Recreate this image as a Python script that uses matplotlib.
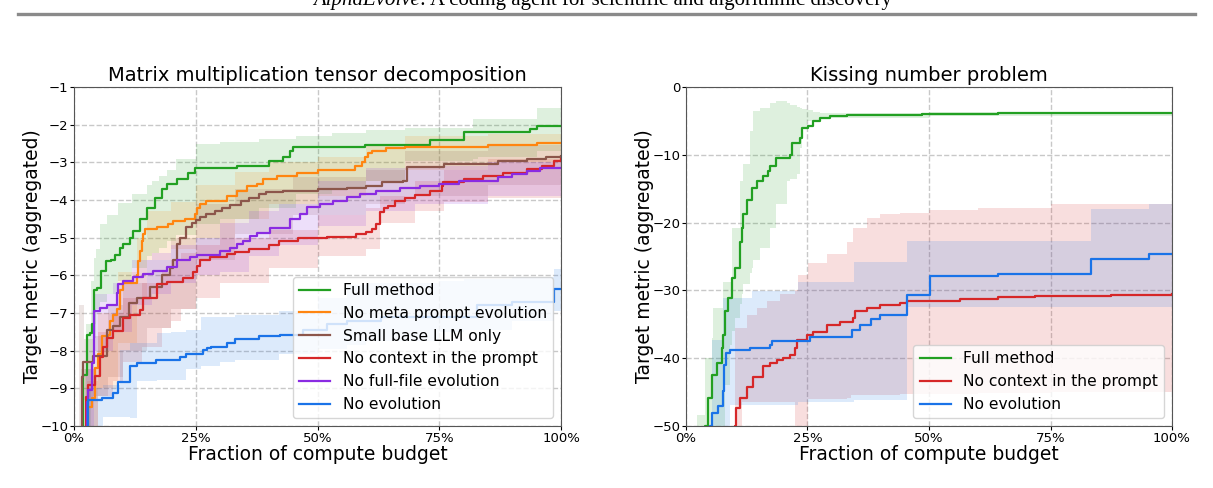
import numpy as np
import matplotlib
matplotlib.use("Agg")
import matplotlib.pyplot as plt
from matplotlib.lines import Line2D
from matplotlib.ticker import PercentFormatter, MultipleLocator

# ---- left panel: matrix multiplication tensor decomposition ----
full_x = [0.014, 0.017, 0.019, 0.026, 0.032, 0.036, 0.041, 0.047, 0.055, 0.066, 0.077, 0.084,
          0.095, 0.101, 0.115, 0.121, 0.136, 0.149, 0.166, 0.180, 0.190, 0.211, 0.235, 0.249,
          0.334, 0.40, 0.43, 0.444, 0.45, 0.598, 0.731, 0.80, 0.936, 0.95, 1.0]
full_y = [-11, -10, -8.64, -7.58, -7.53, -7.3, -6.38, -6.33, -5.89, -5.62, -5.58, -5.45,
          -5.27, -5.18, -5.0, -4.82, -4.51, -4.2, -3.94, -3.71, -3.58, -3.45, -3.27, -3.14,
          -3.09, -2.96, -2.85, -2.69, -2.6, -2.53, -2.42, -2.2, -2.12, -2.04, -2.04]
full_bx = [0.014, 0.024, 0.034, 0.042, 0.046, 0.053, 0.068, 0.09, 0.12, 0.15, 0.16, 0.175, 0.19,
           0.21, 0.25, 0.30, 0.38, 0.455, 0.53, 0.60, 0.68, 0.82, 0.83, 0.95, 1.0]
full_hi = [-8.5, -7.3, -6.15, -5.54, -5.3, -4.65, -4.4, -4.07, -3.85, -3.6, -3.5, -3.35, -3.2,
           -2.9, -2.52, -2.45, -2.39, -2.3, -2.21, -2.15, -2.1, -1.86, -1.86, -1.55, -1.55]
full_lo = [-11, -11, -9.0, -7.67, -6.9, -6.7, -6.5, -6.16, -5.8, -5.5, -5.4, -5.27, -5.1,
           -4.92, -4.65, -4.5, -4.2, -3.85, -3.7, -3.5, -2.97, -2.9, -2.85, -2.7, -2.66]

meta_x = [0.026, 0.028, 0.037, 0.043, 0.050, 0.057, 0.0705, 0.074, 0.081, 0.088, 0.0945, 0.101,
          0.129, 0.132, 0.1355, 0.139, 0.1424, 0.146, 0.17, 0.194, 0.204, 0.228, 0.2485, 0.252,
          0.259, 0.272, 0.3135, 0.334, 0.355, 0.375, 0.389, 0.416, 0.457, 0.50, 0.577, 0.592,
          0.598, 0.604, 0.611, 0.64, 0.68, 0.85, 0.95, 1.0]
meta_y = [-11, -9.49, -9.26, -8.47, -8.1, -7.62, -7.58, -7.22, -7.04, -6.9, -6.39, -6.21,
          -5.99, -5.62, -5.36, -5.09, -4.91, -4.78, -4.72, -4.65, -4.56, -4.51, -4.38, -4.2,
          -4.11, -4.02, -3.9, -3.76, -3.63, -3.58, -3.45, -3.36, -3.27, -3.2, -3.1, -3.0,
          -2.85, -2.75, -2.69, -2.63, -2.6, -2.55, -2.5, -2.48]
meta_bx = [0.026, 0.05, 0.09, 0.13, 0.15, 0.20, 0.25, 0.33, 0.40, 0.50, 0.60, 0.68, 0.85, 1.0]
meta_hi = [-8.8, -7.0, -5.9, -5.0, -4.3, -4.05, -3.6, -3.25, -3.0, -2.85, -2.5, -2.3, -2.25, -2.2]
meta_lo = [-11, -9.0, -7.8, -6.6, -5.6, -5.3, -5.0, -4.5, -4.1, -3.9, -3.5, -3.2, -3.0, -2.9]

small_x = [0.014, 0.0157, 0.0192, 0.040, 0.067, 0.080, 0.0945, 0.112, 0.129, 0.156, 0.18, 0.197,
           0.204, 0.211, 0.218, 0.231, 0.242, 0.25, 0.258, 0.272, 0.29, 0.304, 0.32, 0.342,
           0.36, 0.38, 0.395, 0.43, 0.50, 0.56, 0.60, 0.632, 0.676, 0.683, 0.76, 0.87, 0.93,
           0.97, 1.0]
small_y = [-11, -8.69, -8.29, -8.15, -7.45, -7.35, -7.1, -6.74, -6.6, -6.3, -6.0, -5.8,
           -5.6, -5.18, -5.0, -4.73, -4.6, -4.52, -4.45, -4.38, -4.3, -4.2, -4.12, -4.02,
           -3.94, -3.85, -3.78, -3.76, -3.72, -3.68, -3.63, -3.53, -3.5, -3.12, -3.05, -2.97,
           -2.92, -2.87, -2.82]
small_bx = [0.011, 0.02, 0.04, 0.07, 0.10, 0.15, 0.20, 0.25, 0.33, 0.45, 0.60, 0.68, 0.85, 1.0]
small_hi = [-6.8, -7.7, -7.6, -6.8, -6.2, -5.6, -5.0, -4.1, -3.7, -3.4, -3.2, -2.7, -2.55, -2.4]
small_lo = [-11, -9.3, -9.2, -8.7, -8.0, -7.4, -6.9, -5.6, -4.9, -4.4, -4.1, -3.9, -3.6, -3.3]

ctx_x = [0.022, 0.0246, 0.0294, 0.043, 0.0534, 0.060, 0.067, 0.081, 0.101, 0.115, 0.135, 0.1424,
         0.170, 0.190, 0.2245, 0.245, 0.252, 0.259, 0.279, 0.3135, 0.33, 0.36, 0.40, 0.42,
         0.46, 0.52, 0.58, 0.60, 0.611, 0.62, 0.628, 0.636, 0.645, 0.659, 0.68, 0.70, 0.73,
         0.755, 0.758, 0.80, 0.84, 0.88, 0.93, 0.96, 0.985, 1.0]
ctx_y = [-11, -9.22, -8.91, -8.66, -8.16, -7.9, -7.66, -7.47, -7.14, -7.05, -6.93, -6.61,
         -6.22, -6.18, -6.07, -5.9, -5.75, -5.6, -5.5, -5.44, -5.38, -5.3, -5.2, -5.1,
         -5.0, -4.97, -4.9, -4.85, -4.77, -4.64, -4.33, -4.22, -4.15, -4.02, -3.95, -3.88, -3.75,
         -3.62, -3.52, -3.45, -3.35, -3.27, -3.18, -3.09, -2.96, -2.91]
ctx_bx = [0.022, 0.05, 0.08, 0.10, 0.14, 0.18, 0.20, 0.22, 0.25, 0.30, 0.40, 0.50, 0.60, 0.628,
          0.70, 0.76, 0.85, 1.0]
ctx_hi = [-8.5, -7.5, -7.0, -6.6, -6.2, -5.9, -5.6, -5.4, -5.2, -5.0, -4.8, -4.4, -4.2, -3.9,
          -3.5, -3.2, -2.9, -2.6]
ctx_lo = [-11, -9.2, -8.8, -8.3, -7.9, -7.4, -7.2, -6.9, -6.6, -6.2, -5.8, -5.5, -5.3, -4.6,
          -4.3, -4.05, -3.95, -3.85]

file_x = [0.024, 0.026, 0.0294, 0.036, 0.041, 0.0534, 0.067, 0.0876, 0.091, 0.1013, 0.122,
          0.1424, 0.163, 0.19, 0.211, 0.238, 0.252, 0.30, 0.32, 0.334, 0.348, 0.361, 0.375,
          0.402, 0.4435, 0.464, 0.478, 0.505, 0.532, 0.56, 0.587, 0.62, 0.67, 0.71, 0.75, 0.79,
          0.87, 0.90, 0.93, 0.956, 1.0]
file_y = [-11, -9.35, -9.04, -8.34, -6.96, -6.87, -6.78, -6.48, -6.22, -6.16, -6.04,
          -5.96, -5.89, -5.78, -5.6, -5.51, -5.45, -5.36, -5.27, -5.18, -5.09, -4.96, -4.87,
          -4.74, -4.51, -4.37, -4.19, -4.1, -4.02, -3.93, -3.84, -3.75, -3.68, -3.62, -3.58, -3.49,
          -3.4, -3.3, -3.22, -3.15, -3.15]
file_bx = [0.024, 0.041, 0.08, 0.12, 0.16, 0.20, 0.25, 0.30, 0.36, 0.42, 0.50, 0.60, 0.70, 0.85, 1.0]
file_hi = [-8.5, -6.5, -6.2, -5.6, -5.4, -5.2, -5.0, -4.6, -4.3, -4.1, -3.5, -3.15, -3.1, -3.0, -2.9]
file_lo = [-11, -8.0, -7.5, -6.8, -6.5, -6.2, -6.0, -5.9, -5.5, -5.2, -4.7, -4.3, -4.1, -3.9, -3.6]

noevo_x = [0.028, 0.0294, 0.0568, 0.0808, 0.091, 0.115, 0.1287, 0.169, 0.2177, 0.23, 0.2656,
           0.273, 0.282, 0.3135, 0.3306, 0.38, 0.423, 0.47, 0.52, 0.56, 0.63, 0.827, 0.90,
           0.986, 1.0]
noevo_y = [-11, -9.31, -9.26, -9.13, -8.82, -8.42, -8.33, -8.24, -8.16, -8.1, -7.98,
           -7.93, -7.9, -7.8, -7.7, -7.62, -7.58, -7.45, -7.3, -7.2, -7.1, -6.79, -6.7,
           -6.37, -6.37]
noevo_bx = [0.028, 0.06, 0.094, 0.115, 0.13, 0.17, 0.20, 0.23, 0.26, 0.30, 0.33, 0.42, 0.50,
            0.56, 0.60, 0.75, 0.80, 0.90, 0.986, 1.0]
noevo_hi = [-9.0, -8.9, -7.98, -7.8, -7.8, -7.53, -7.5, -7.44, -7.1, -7.1, -7.05, -6.95, -6.6,
            -6.25, -6.2, -6.15, -6.1, -6.05, -5.84, -5.84]
noevo_lo = [-11, -9.75, -9.75, -9.8, -8.8, -8.77, -8.77, -8.5, -8.4, -8.3, -8.25, -8.1, -7.95,
            -7.85, -7.75, -7.5, -7.45, -7.2, -6.96, -6.96]

# ---- right panel: kissing number ----
k_full_x = [0.036, 0.0391, 0.046, 0.0528, 0.0631, 0.0734, 0.0754, 0.0802, 0.0871, 0.094, 0.1008,
            0.111, 0.1145, 0.118, 0.1248, 0.135, 0.1454, 0.159, 0.1694, 0.173, 0.186, 0.214,
            0.2174, 0.2346, 0.238, 0.2517, 0.262, 0.276, 0.2963, 0.3306, 0.4856, 0.641, 0.7964, 1.0]
k_full_y = [-55, -50, -45.9, -42.5, -40.7, -38.5, -36.6, -33.1, -31.1, -28.2, -26.7,
            -22.8, -20.8, -18.8, -16.6, -14.9, -13.9, -13.2, -12.4, -11.7, -10.4, -10.0,
            -8.2, -7.5, -6.0, -5.8, -5.0, -4.5, -4.3, -4.2, -4.0, -3.9, -3.8, -3.8]
k_full_bx = [0.015, 0.022, 0.039, 0.053, 0.0563, 0.075, 0.0768, 0.08, 0.09, 0.094, 0.10, 0.111,
             0.1145, 0.118, 0.1317, 0.135, 0.1385, 0.152, 0.173, 0.186, 0.207, 0.214, 0.228,
             0.235, 0.238, 0.248, 0.262, 0.276, 0.30, 0.5, 1.0]
k_full_hi = [-52, -48.4, -40, -37, -32.6, -32.6, -28.7, -28.7, -28.7, -20.8, -20.8, -13.9,
             -13.9, -11.4, -6.5, -6.5, -3.5, -3.1, -2.3, -2.1, -2.3, -2.6, -2.9,
             -3.1, -3.2, -3.4, -3.7, -3.9, -3.85, -3.7, -3.5]
k_full_lo = [-55, -55, -55, -55, -55, -50, -50, -44, -38, -36, -34, -32,
             -30.6, -29, -27.5, -26.7, -25.5, -23.7, -20.8, -17.3, -13.9, -13.5, -12.9,
             -9, -6, -5, -4.8, -4.6, -4.5, -4.3, -4.1]

k_ctx_x = [0.098, 0.1008, 0.1029, 0.1111, 0.1248, 0.1385, 0.159, 0.1728, 0.1866, 0.2003, 0.214,
           0.2243, 0.2277, 0.2483, 0.262, 0.2894, 0.317, 0.3443, 0.3477, 0.3717, 0.399, 0.44,
           0.4545, 0.5633, 0.641, 0.7187, 0.8741, 1.0]
k_ctx_y = [-55, -50, -47.4, -45.9, -44.2, -42.7, -41.2, -40.7, -40.2, -40.0, -39.5,
           -38.5, -37.3, -36.6, -36.1, -35.1, -34.6, -34.1, -33.1, -32.6, -32.1, -31.9,
           -31.5, -31.2, -31.0, -30.8, -30.7, -30.6]
k_ctx_bx = [0.098, 0.1008, 0.115, 0.1248, 0.1454, 0.166, 0.1934, 0.2243, 0.231, 0.2517, 0.2894,
            0.3306, 0.34, 0.3443, 0.3717, 0.399, 0.44, 0.5, 0.6, 0.75, 1.0]
k_ctx_hi = [-55, -35.6, -35.6, -33.6, -32.6, -31.6, -30.6, -30.0, -27.7, -26.0, -24.7,
            -22.8, -22.8, -20.8, -19.3, -18.8, -18.6, -18.2, -17.8, -17.3, -16.6]
k_ctx_lo = [-55, -55, -46.5, -46.5, -46.5, -46.5, -46.5, -50, -50, -46.0, -46.0,
            -45.8, -45.5, -45.5, -45.4, -45.4, -45.3, -45.3, -45.2, -45.0, -44.6]

k_noevo_x = [0.047, 0.0494, 0.0528, 0.0665, 0.0754, 0.0789, 0.0816, 0.0905, 0.1317, 0.173,
             0.1763, 0.2551, 0.341, 0.358, 0.3807, 0.399, 0.4545, 0.5027, 0.641, 0.8337, 0.9518, 1.0]
k_noevo_y = [-55, -50, -48.1, -47.1, -44.9, -41.0, -39.3, -38.8, -38.5, -38.0,
             -37.5, -36.8, -35.8, -35.1, -34.2, -33.6, -30.7, -27.9, -27.6, -25.4, -24.6, -24.6]
k_noevo_bx = [0.047, 0.0528, 0.077, 0.085, 0.0905, 0.135, 0.231, 0.345, 0.4545, 0.8337, 0.9518, 1.0]
k_noevo_hi = [-55, -37.3, -31.1, -31.1, -31.1, -30.1, -28.7, -25.8, -22.7, -18.0, -17.3, -17.3]
k_noevo_lo = [-55, -55, -55, -55, -46.9, -46.9, -46.5, -46.2, -32.5, -32.5, -32.5, -32.5]

C_GREEN = "#22a022"
C_ORANGE = "#ff8510"
C_BROWN = "#8c564b"
C_RED = "#d62728"
C_PURPLE = "#8a2be2"
C_BLUE = "#1a73e8"

left_series = [
    ("Full method", C_GREEN, full_x, full_y, full_bx, full_lo, full_hi),
    ("No meta prompt evolution", C_ORANGE, meta_x, meta_y, meta_bx, meta_lo, meta_hi),
    ("Small base LLM only", C_BROWN, small_x, small_y, small_bx, small_lo, small_hi),
    ("No context in the prompt", C_RED, ctx_x, ctx_y, ctx_bx, ctx_lo, ctx_hi),
    ("No full-file evolution", C_PURPLE, file_x, file_y, file_bx, file_lo, file_hi),
    ("No evolution", C_BLUE, noevo_x, noevo_y, noevo_bx, noevo_lo, noevo_hi),
]
right_series = [
    ("Full method", C_GREEN, k_full_x, k_full_y, k_full_bx, k_full_lo, k_full_hi),
    ("No context in the prompt", C_RED, k_ctx_x, k_ctx_y, k_ctx_bx, k_ctx_lo, k_ctx_hi),
    ("No evolution", C_BLUE, k_noevo_x, k_noevo_y, k_noevo_bx, k_noevo_lo, k_noevo_hi),
]


def draw_panel(ax, series, title, ylim, ystep):
    for label, color, x, y, bx, lo, hi in series:
        ax.fill_between(bx, lo, hi, step="post", color=color, alpha=0.15, lw=0)
    for label, color, x, y, bx, lo, hi in series:
        ax.step(x, y, where="post", color=color, lw=1.6, label=label)
    ax.set_xlim(0, 1)
    ax.set_ylim(*ylim)
    ax.xaxis.set_major_locator(MultipleLocator(0.25))
    ax.xaxis.set_major_formatter(PercentFormatter(1.0, decimals=0))
    ax.yaxis.set_major_locator(MultipleLocator(ystep))
    ax.tick_params(labelsize=9.5, length=3, pad=1.2)
    ax.grid(True, ls="--", color="#c8c8c8", lw=1.0)
    ax.set_axisbelow(True)
    for s in ax.spines.values():
        s.set_color("#555555")
    ax.set_title(title, fontsize=14, pad=4)
    ax.set_xlabel("Fraction of compute budget", fontsize=13.5, labelpad=0)
    ax.set_ylabel("Target metric (aggregated)", fontsize=13.5, labelpad=-1)
    ax.legend(loc="lower right", fontsize=11.2, framealpha=0.8)


fig = plt.figure(figsize=(12.13, 4.88), dpi=100)
W, H = 1213.0, 488.0

ax1 = fig.add_axes([74 / W, 1 - 426 / H, 487 / W, 339 / H])
ax2 = fig.add_axes([686 / W, 1 - 426 / H, 486 / W, 339 / H])
draw_panel(ax1, left_series, "Matrix multiplication tensor decomposition", (-10, -1), 1)
draw_panel(ax2, right_series, "Kissing number problem", (-50, 0), 10)

# running header of the paper page, cut at the top as in the page scan
fig.text(420 / W, 1 - 5 / H, "AlphaEvolve", ha="right", va="baseline",
         family="Liberation Serif", style="italic", fontsize=15)
fig.text(420 / W, 1 - 5 / H, ": A coding agent for scientific and algorithmic discovery",
         ha="left", va="baseline", family="Liberation Serif", fontsize=15)
fig.add_artist(Line2D([18 / W, 1195 / W], [1 - 14 / H, 1 - 14 / H], transform=fig.transFigure,
                      color="#8a8a8a", lw=2.4))

fig.savefig("out.png", dpi=100)
